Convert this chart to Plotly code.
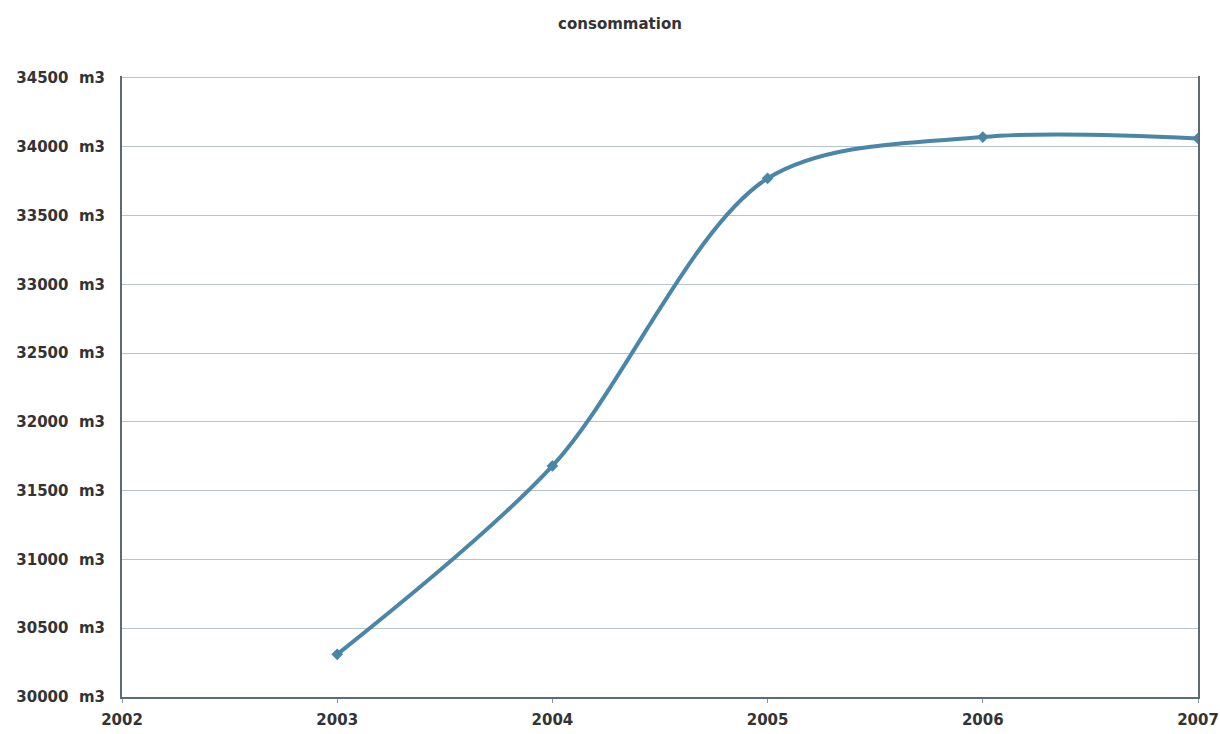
import plotly.graph_objects as go

years = [2003, 2004, 2005, 2006, 2007]
consommation = [30310, 31680, 33770, 34070, 34060]

y_ticks = [30000, 30500, 31000, 31500, 32000, 32500, 33000, 33500, 34000, 34500]
y_labels = [f"{v}  m3" for v in y_ticks]
x_ticks = [2002, 2003, 2004, 2005, 2006, 2007]

fig = go.Figure()
fig.add_trace(go.Scatter(
    x=years, y=consommation, mode="lines+markers",
    line=dict(color="#4a86a8", width=4, shape="spline", smoothing=0.9),
    marker=dict(symbol="diamond", size=9, color="#4a86a8"),
    showlegend=False, hoverinfo="skip",
))

fig.update_layout(
    width=1220, height=734,
    margin=dict(l=122, r=22, t=76, b=37),
    paper_bgcolor="white", plot_bgcolor="white",
    title=dict(text="<b>consommation</b>", x=620 / 1220, xanchor="center", y=0.968, yanchor="middle",
               font=dict(family="DejaVu Sans", size=15, color="#333333")),
    font=dict(family="DejaVu Sans", color="#333333"),
)
fig.update_xaxes(
    range=[2002, 2007], tickvals=x_ticks, ticktext=[f"<b>{v}</b>" for v in x_ticks],
    showgrid=False, showline=True, linecolor="#5c6b74", linewidth=2,
    ticks="outside", ticklen=4, tickcolor="#8a969c", ticklabelstandoff=4,
    tickfont=dict(family="DejaVu Sans", size=15, color="#333333"),
    zeroline=False, automargin=False, ticklabeloverflow="allow",
)
fig.update_yaxes(
    range=[30000, 34514], tickvals=y_ticks, ticktext=[f"<b>{t}</b>" for t in y_labels],
    showgrid=True, gridcolor="#b8c4cc", gridwidth=1,
    showline=True, linecolor="#5c6b74", linewidth=2, mirror=True,
    ticks="", ticklabelstandoff=12,
    tickfont=dict(family="DejaVu Sans", size=15, color="#333333"),
    zeroline=False, automargin=False, ticklabeloverflow="allow",
)

fig.write_html("out.html")
